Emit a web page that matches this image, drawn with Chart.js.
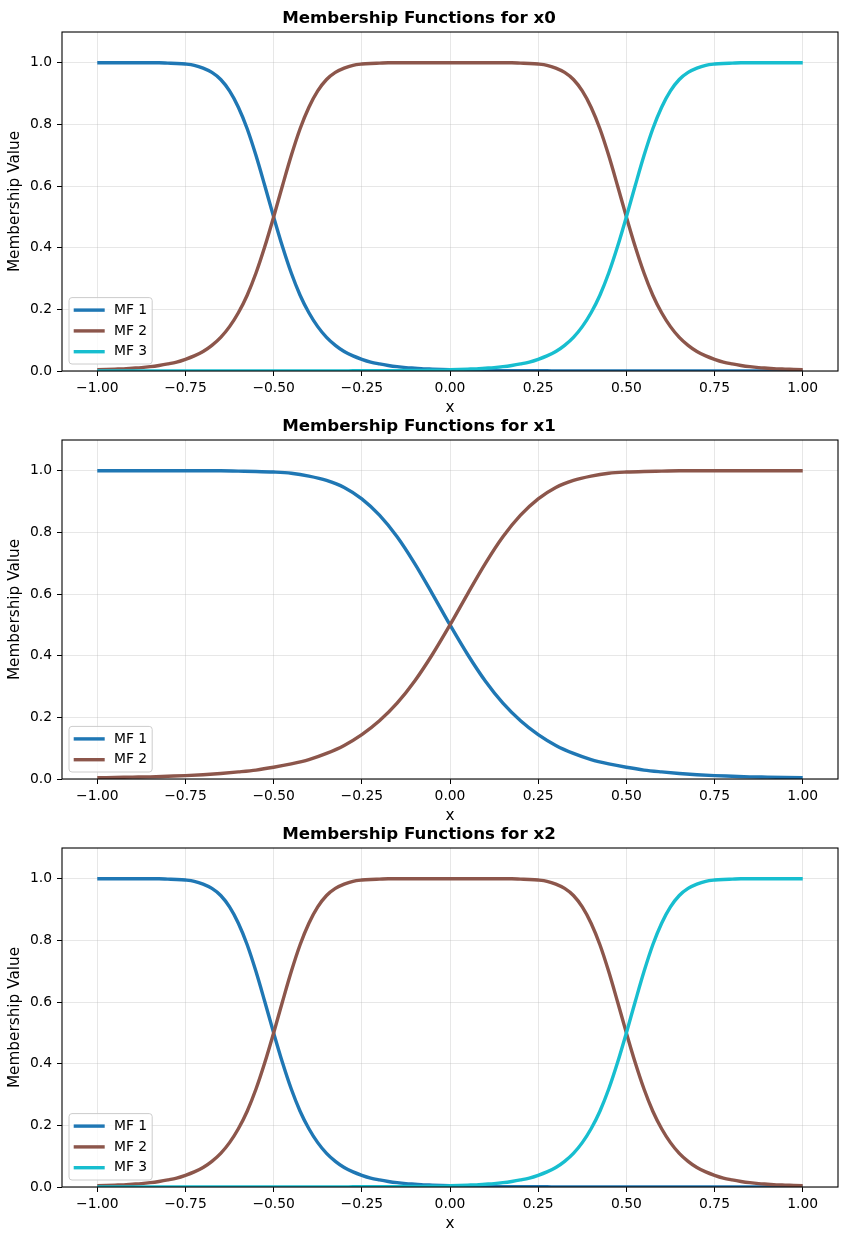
<!DOCTYPE html>
<html>
<head>
<meta charset="utf-8">
<title>Membership Functions</title>
<script src="https://cdn.jsdelivr.net/npm/chart.js@4.4.1/dist/chart.umd.min.js"></script>
<style>
  body { margin: 0; background: #fff; width: 847px; height: 1241px; position: relative; overflow: hidden; }
  canvas { position: absolute; left: 0; }
</style>
</head>
<body>
<canvas id="chartX0" width="847" height="416" style="top:0px"></canvas>
<canvas id="chartX1" width="847" height="416" style="top:408px"></canvas>
<canvas id="chartX2" width="847" height="416" style="top:816px"></canvas>
<script>
// sample positions along x: every 0.025 for the steep panels, every 0.05 for x1
const xFine = [-1, -0.975, -0.95, -0.925, -0.9, -0.875, -0.85, -0.825, -0.8, -0.775,
  -0.75, -0.725, -0.7, -0.675, -0.65, -0.625, -0.6, -0.575, -0.55, -0.525,
  -0.5, -0.475, -0.45, -0.425, -0.4, -0.375, -0.35, -0.325, -0.3, -0.275,
  -0.25, -0.225, -0.2, -0.175, -0.15, -0.125, -0.1, -0.075, -0.05, -0.025,
  0, 0.025, 0.05, 0.075, 0.1, 0.125, 0.15, 0.175, 0.2, 0.225,
  0.25, 0.275, 0.3, 0.325, 0.35, 0.375, 0.4, 0.425, 0.45, 0.475,
  0.5, 0.525, 0.55, 0.575, 0.6, 0.625, 0.65, 0.675, 0.7, 0.725,
  0.75, 0.775, 0.8, 0.825, 0.85, 0.875, 0.9, 0.925, 0.95, 0.975,
  1];
const xCoarse = [-1, -0.95, -0.9, -0.85, -0.8, -0.75, -0.7, -0.65, -0.6, -0.55,
  -0.5, -0.45, -0.4, -0.35, -0.3, -0.25, -0.2, -0.15, -0.1, -0.05,
  0, 0.05, 0.1, 0.15, 0.2, 0.25, 0.3, 0.35, 0.4, 0.45,
  0.5, 0.55, 0.6, 0.65, 0.7, 0.75, 0.8, 0.85, 0.9, 0.95, 1];

// x0 (on xFine)
const x0Mf1 = [1, 1, 1, 1, 1, 1, 1, 1, 0.999, 0.998,
  0.996, 0.992, 0.983, 0.969, 0.946, 0.909, 0.856, 0.786, 0.699, 0.601,
  0.5, 0.404, 0.318, 0.246, 0.189, 0.144, 0.109, 0.083, 0.063, 0.049,
  0.038, 0.029, 0.023, 0.018, 0.014, 0.011, 0.009, 0.007, 0.006, 0.005,
  0.004, 0.003, 0.003, 0.002, 0.002, 0.002, 0.001, 0.001, 0.001, 0.001,
  0.001, 0.001, 0, 0, 0, 0, 0, 0, 0, 0,
  0, 0, 0, 0, 0, 0, 0, 0, 0, 0,
  0, 0, 0, 0, 0, 0, 0, 0, 0, 0,
  0];
const x0Mf2 = [0.004, 0.005, 0.006, 0.007, 0.009, 0.011, 0.014, 0.018, 0.023, 0.029,
  0.038, 0.049, 0.063, 0.083, 0.109, 0.144, 0.189, 0.246, 0.318, 0.404,
  0.5, 0.601, 0.699, 0.786, 0.856, 0.909, 0.946, 0.969, 0.983, 0.992,
  0.996, 0.998, 0.999, 1, 1, 1, 1, 1, 1, 1,
  1, 1, 1, 1, 1, 1, 1, 1, 0.999, 0.998,
  0.996, 0.992, 0.983, 0.969, 0.946, 0.909, 0.856, 0.786, 0.699, 0.601,
  0.5, 0.404, 0.318, 0.246, 0.189, 0.144, 0.109, 0.083, 0.063, 0.049,
  0.038, 0.029, 0.023, 0.018, 0.014, 0.011, 0.009, 0.007, 0.006, 0.005,
  0.004];
const x0Mf3 = [0, 0, 0, 0, 0, 0, 0, 0, 0, 0,
  0, 0, 0, 0, 0, 0, 0, 0, 0, 0,
  0, 0, 0, 0, 0, 0, 0, 0, 0, 0.001,
  0.001, 0.001, 0.001, 0.001, 0.001, 0.002, 0.002, 0.002, 0.003, 0.003,
  0.004, 0.005, 0.006, 0.007, 0.009, 0.011, 0.014, 0.018, 0.023, 0.029,
  0.038, 0.049, 0.063, 0.083, 0.109, 0.144, 0.189, 0.246, 0.318, 0.404,
  0.5, 0.601, 0.699, 0.786, 0.856, 0.909, 0.946, 0.969, 0.983, 0.992,
  0.996, 0.998, 0.999, 1, 1, 1, 1, 1, 1, 1,
  1];

// x1 (on xCoarse)
const x1Mf1 = [1, 1, 1, 1, 1, 1, 1, 1, 0.999, 0.998,
  0.996, 0.992, 0.983, 0.969, 0.946, 0.909, 0.856, 0.786, 0.699, 0.601,
  0.5, 0.404, 0.318, 0.246, 0.189, 0.144, 0.109, 0.083, 0.063, 0.049,
  0.038, 0.029, 0.023, 0.018, 0.014, 0.011, 0.009, 0.007, 0.006, 0.005, 0.004];
const x1Mf2 = [0.004, 0.005, 0.006, 0.007, 0.009, 0.011, 0.014, 0.018, 0.023, 0.029,
  0.038, 0.049, 0.063, 0.083, 0.109, 0.144, 0.189, 0.246, 0.318, 0.404,
  0.5, 0.601, 0.699, 0.786, 0.856, 0.909, 0.946, 0.969, 0.983, 0.992,
  0.996, 0.998, 0.999, 1, 1, 1, 1, 1, 1, 1, 1];

// x2 (on xFine)
const x2Mf1 = [1, 1, 1, 1, 1, 1, 1, 1, 0.999, 0.998,
  0.996, 0.992, 0.983, 0.969, 0.946, 0.909, 0.856, 0.786, 0.699, 0.601,
  0.5, 0.404, 0.318, 0.246, 0.189, 0.144, 0.109, 0.083, 0.063, 0.049,
  0.038, 0.029, 0.023, 0.018, 0.014, 0.011, 0.009, 0.007, 0.006, 0.005,
  0.004, 0.003, 0.003, 0.002, 0.002, 0.002, 0.001, 0.001, 0.001, 0.001,
  0.001, 0.001, 0, 0, 0, 0, 0, 0, 0, 0,
  0, 0, 0, 0, 0, 0, 0, 0, 0, 0,
  0, 0, 0, 0, 0, 0, 0, 0, 0, 0,
  0];
const x2Mf2 = [0.004, 0.005, 0.006, 0.007, 0.009, 0.011, 0.014, 0.018, 0.023, 0.029,
  0.038, 0.049, 0.063, 0.083, 0.109, 0.144, 0.189, 0.246, 0.318, 0.404,
  0.5, 0.601, 0.699, 0.786, 0.856, 0.909, 0.946, 0.969, 0.983, 0.992,
  0.996, 0.998, 0.999, 1, 1, 1, 1, 1, 1, 1,
  1, 1, 1, 1, 1, 1, 1, 1, 0.999, 0.998,
  0.996, 0.992, 0.983, 0.969, 0.946, 0.909, 0.856, 0.786, 0.699, 0.601,
  0.5, 0.404, 0.318, 0.246, 0.189, 0.144, 0.109, 0.083, 0.063, 0.049,
  0.038, 0.029, 0.023, 0.018, 0.014, 0.011, 0.009, 0.007, 0.006, 0.005,
  0.004];
const x2Mf3 = [0, 0, 0, 0, 0, 0, 0, 0, 0, 0,
  0, 0, 0, 0, 0, 0, 0, 0, 0, 0,
  0, 0, 0, 0, 0, 0, 0, 0, 0, 0.001,
  0.001, 0.001, 0.001, 0.001, 0.001, 0.002, 0.002, 0.002, 0.003, 0.003,
  0.004, 0.005, 0.006, 0.007, 0.009, 0.011, 0.014, 0.018, 0.023, 0.029,
  0.038, 0.049, 0.063, 0.083, 0.109, 0.144, 0.189, 0.246, 0.318, 0.404,
  0.5, 0.601, 0.699, 0.786, 0.856, 0.909, 0.946, 0.969, 0.983, 0.992,
  0.996, 0.998, 0.999, 1, 1, 1, 1, 1, 1, 1,
  1];

const mfLabels = ['MF 1', 'MF 2', 'MF 3'];
const xTickValues = [-1, -0.75, -0.5, -0.25, 0, 0.25, 0.5, 0.75, 1];
const yTickValues = [0, 0.2, 0.4, 0.6, 0.8, 1.0];

const mfColors = ['#1f77b4', '#8c564b', '#17becf'];
const FONT = '"DejaVu Sans", "Liberation Sans", sans-serif';
const LINE_W = 3.4;

Chart.defaults.color = '#000';
Chart.defaults.font.family = FONT;

const minus = (s) => s.replace('-', '\u2212');

// black box round the plot area, like the axes spines
const frameBox = {
  id: 'frameBox',
  afterDatasetsDraw(chart) {
    const { ctx, chartArea: a } = chart;
    ctx.save();
    ctx.strokeStyle = '#000';
    ctx.lineWidth = 1.1;
    ctx.strokeRect(a.left, a.top, a.right - a.left, a.bottom - a.top);
    ctx.restore();
  }
};

// legend in the lower left corner inside the plot
const cornerLegend = {
  id: 'cornerLegend',
  afterDraw(chart) {
    const { ctx, chartArea: a } = chart;
    const sets = chart.data.datasets;
    ctx.save();
    ctx.font = '13.89px ' + FONT;
    let textW = 0;
    sets.forEach(ds => { textW = Math.max(textW, ctx.measureText(ds.label).width); });
    const rowH = 20.8;
    const left = a.left + 7;
    const bottom = a.bottom - 7;
    const top = bottom - (4 + rowH * sets.length);
    const right = left + 45 + textW + 5;
    const r = 3;
    ctx.beginPath();
    ctx.moveTo(left + r, top);
    ctx.arcTo(right, top, right, bottom, r);
    ctx.arcTo(right, bottom, left, bottom, r);
    ctx.arcTo(left, bottom, left, top, r);
    ctx.arcTo(left, top, right, top, r);
    ctx.closePath();
    ctx.fillStyle = 'rgba(255,255,255,0.8)';
    ctx.fill();
    ctx.strokeStyle = '#cccccc';
    ctx.lineWidth = 1;
    ctx.stroke();
    sets.forEach((ds, k) => {
      const y = bottom - 12.3 - rowH * (sets.length - 1 - k);
      ctx.strokeStyle = ds.borderColor;
      ctx.lineWidth = LINE_W;
      ctx.beginPath();
      ctx.moveTo(left + 4.7, y);
      ctx.lineTo(left + 35.7, y);
      ctx.stroke();
      ctx.fillStyle = '#000';
      ctx.textAlign = 'left';
      ctx.textBaseline = 'middle';
      ctx.fillText(ds.label, left + 45, y);
    });
    ctx.restore();
  }
};

function drawPanel(canvasId, title, xs, seriesList) {
  const datasets = seriesList.map((values, i) => ({
    label: mfLabels[i],
    data: xs.map((x, j) => ({ x: x, y: values[j] })),
    borderColor: mfColors[i],
    backgroundColor: mfColors[i],
    borderWidth: LINE_W,
    pointRadius: 0,
    fill: false,
    cubicInterpolationMode: 'monotone',
    clip: 0,
    order: seriesList.length - i
  }));

  new Chart(document.getElementById(canvasId), {
    type: 'line',
    data: { datasets: datasets },
    options: {
      responsive: false,
      animation: false,
      events: [],
      layout: { padding: { left: 0, right: 9, top: 0, bottom: 0 } },
      plugins: {
        legend: { display: false },
        tooltip: { enabled: false },
        title: {
          display: true,
          text: title,
          color: '#000',
          font: { size: 16.67, weight: 'bold', family: FONT, lineHeight: 1.2 },
          padding: { top: 9, bottom: 3 }
        }
      },
      scales: {
        x: {
          type: 'linear',
          min: -1.1,
          max: 1.1,
          afterBuildTicks: (scale) => { scale.ticks = xTickValues.map(v => ({ value: v })); },
          afterFit: (scale) => { scale.height = 45; },
          ticks: {
            padding: 4,
            maxRotation: 0,
            autoSkip: false,
            font: { size: 13.89, lineHeight: 1.2 },
            callback: (v) => minus(Number(v).toFixed(2))
          },
          grid: { color: 'rgba(176,176,176,0.3)', lineWidth: 1, tickColor: '#000', tickWidth: 1, tickLength: 5 },
          border: { display: false },
          title: { display: true, text: 'x', font: { size: 15.28, lineHeight: 1 }, padding: { top: 0, bottom: 0 } }
        },
        y: {
          min: 0,
          max: 1.1,
          afterBuildTicks: (scale) => { scale.ticks = yTickValues.map(v => ({ value: v })); },
          afterFit: (scale) => { scale.width = 62; },
          ticks: {
            padding: 5,
            autoSkip: false,
            font: { size: 13.89 },
            callback: (v) => Number(v).toFixed(1)
          },
          grid: { color: 'rgba(176,176,176,0.3)', lineWidth: 1, tickColor: '#000', tickWidth: 1, tickLength: 5 },
          border: { display: false },
          title: { display: true, text: 'Membership Value', font: { size: 15.28, lineHeight: 1.2 }, padding: { top: 6, bottom: 0 } }
        }
      }
    },
    plugins: [frameBox, cornerLegend]
  });
}

drawPanel('chartX0', 'Membership Functions for x0', xFine, [x0Mf1, x0Mf2, x0Mf3]);
drawPanel('chartX1', 'Membership Functions for x1', xCoarse, [x1Mf1, x1Mf2]);
drawPanel('chartX2', 'Membership Functions for x2', xFine, [x2Mf1, x2Mf2, x2Mf3]);
</script>
</body>
</html>
